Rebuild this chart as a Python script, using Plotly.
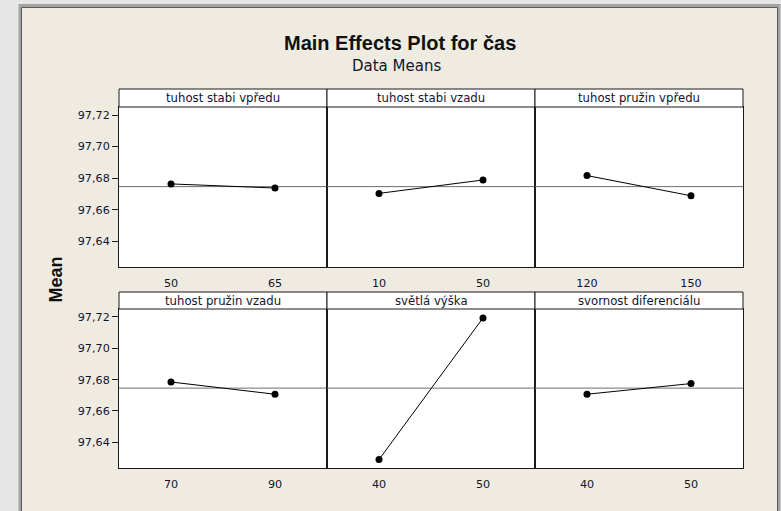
import plotly.graph_objects as go

# ---- data ----
factors = ["tuhost stabi vpředu", "tuhost stabi vzadu", "tuhost pružin vpředu",
           "tuhost pružin vzadu", "světlá výška", "svornost diferenciálu"]
levels = [["50", "65"], ["10", "50"], ["120", "150"],
          ["70", "90"], ["40", "50"], ["40", "50"]]
means = [[97.6763, 97.6737], [97.6703, 97.6788], [97.6816, 97.6688],
         [97.6785, 97.6707], [97.6290, 97.7194], [97.6707, 97.6775]]
grand_mean = 97.6746
y_tick_vals = [97.64, 97.66, 97.68, 97.70, 97.72]
y_tick_text = ["97,64", "97,66", "97,68", "97,70", "97,72"]
title_text = "Main Effects Plot for čas"
subtitle_text = "Data Means"
y_title = "Mean"

# ---- layout geometry (pixels) ----
W, H = 781, 511
def fx(x): return x / W
def fy(y): return 1 - y / H

cols = [(119, 327), (327, 535), (535, 743)]
rows = [dict(plot=(107, 267), strip=(89, 107)), dict(plot=(309, 468), strip=(292, 309))]
y_range = [97.6236, 97.7251]

BEIGE = "#efebe1"
OUTER = "#e6e6e6"
TXT = "#14142e"
FONT = "DejaVu Sans"

fig = go.Figure()
layout = dict(width=W, height=H, margin=dict(l=0, r=0, t=0, b=0),
              paper_bgcolor=BEIGE, plot_bgcolor="white", showlegend=False)
shapes = []
annotations = []

for i, name in enumerate(factors):
    r, c = divmod(i, 3)
    n = i + 1
    xa = "x" if n == 1 else f"x{n}"
    ya = "y" if n == 1 else f"y{n}"
    xs = list(range(len(levels[i])))
    # reference line at grand mean
    fig.add_trace(go.Scatter(x=[xs[0] - 0.5, xs[-1] + 0.5], y=[grand_mean, grand_mean],
                             mode="lines", line=dict(color="#6f6f6f", width=1),
                             xaxis=xa, yaxis=ya, hoverinfo="skip"))
    fig.add_trace(go.Scatter(x=xs, y=means[i], mode="lines+markers",
                             line=dict(color="black", width=1),
                             marker=dict(color="black", size=7),
                             xaxis=xa, yaxis=ya))
    x0, x1 = cols[c]
    p0, p1 = rows[r]["plot"]
    s0, s1 = rows[r]["strip"]
    layout["xaxis" if n == 1 else f"xaxis{n}"] = dict(
        domain=[fx(x0), fx(x1)], anchor=ya, range=[-0.5, 1.5],
        tickvals=xs, ticktext=levels[i], ticks="", ticklabelstandoff=6,
        showline=True, mirror=True, linecolor="#1a1a1a", linewidth=1,
        showgrid=False, zeroline=False, fixedrange=True,
        tickfont=dict(family=FONT, size=11.2, color=TXT))
    ydict = dict(domain=[fy(p1), fy(p0)], anchor=xa, range=y_range,
                 showline=True, mirror=True, linecolor="#1a1a1a", linewidth=1,
                 showgrid=False, zeroline=False, fixedrange=True)
    if c == 0:
        ydict.update(tickvals=y_tick_vals, ticktext=y_tick_text, ticks="outside",
                     ticklen=6, tickcolor="#1a1a1a", tickwidth=1,
                     tickfont=dict(family=FONT, size=11.2, color=TXT))
    else:
        ydict.update(showticklabels=False, ticks="")
    layout["yaxis" if n == 1 else f"yaxis{n}"] = ydict
    # strip
    shapes.append(dict(type="rect", xref="paper", yref="paper",
                       x0=fx(x0), x1=fx(x1), y0=fy(s1), y1=fy(s0),
                       fillcolor="white", line=dict(color="#1a1a1a", width=1)))
    annotations.append(dict(text=name, xref="paper", yref="paper",
                            x=fx((x0 + x1) / 2), y=fy((s0 + s1) / 2),
                            xanchor="center", yanchor="middle", showarrow=False,
                            font=dict(family=FONT, size=11.7, color=TXT)))

# outer window area and frame
shapes += [
    dict(type="rect", xref="paper", yref="paper", x0=0, x1=fx(19), y0=0, y1=1,
         fillcolor=OUTER, line=dict(width=0), layer="below"),
    dict(type="rect", xref="paper", yref="paper", x0=0, x1=1, y0=fy(4), y1=1,
         fillcolor=OUTER, line=dict(width=0), layer="below"),
    dict(type="rect", xref="paper", yref="paper", x0=fx(780), x1=1, y0=0, y1=1,
         fillcolor=OUTER, line=dict(width=0), layer="below"),
    dict(type="rect", xref="paper", yref="paper", x0=fx(20), x1=fx(779), y0=-0.1, y1=fy(5.5),
         fillcolor="rgba(0,0,0,0)", line=dict(color="#a3a3a3", width=3)),
    dict(type="rect", xref="paper", yref="paper", x0=fx(21.5), x1=fx(777.5), y0=-0.1, y1=fy(7.5),
         fillcolor="rgba(0,0,0,0)", line=dict(color="#5a5a5a", width=1)),
]

annotations += [
    dict(text=title_text, xref="paper", yref="paper", x=fx(400), y=fy(43),
         xanchor="center", yanchor="middle", showarrow=False,
         font=dict(family="Liberation Sans", size=20, color="#111111", weight="bold")),
    dict(text=subtitle_text, xref="paper", yref="paper", x=fx(396), y=fy(66),
         xanchor="center", yanchor="middle", showarrow=False,
         font=dict(family=FONT, size=15, color=TXT)),
    dict(text=y_title, xref="paper", yref="paper", x=fx(55.5), y=fy(280),
         xanchor="center", yanchor="middle", showarrow=False, textangle=-90,
         font=dict(family="Liberation Sans", size=18, color="#111111", weight="bold")),
]

layout["shapes"] = shapes
layout["annotations"] = annotations
fig.update_layout(**layout)
fig.write_html("out.html")
